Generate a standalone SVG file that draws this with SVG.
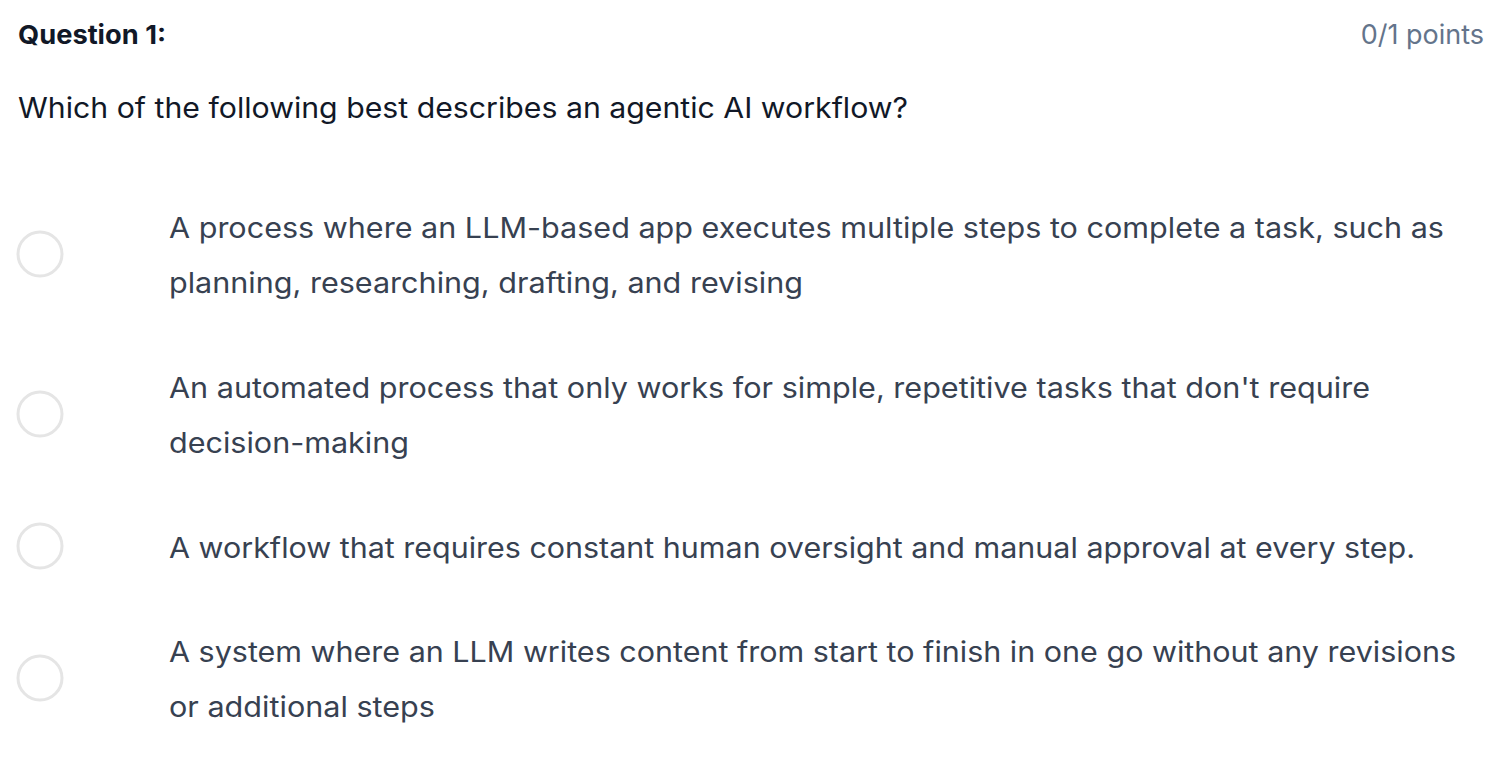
<svg xmlns="http://www.w3.org/2000/svg" width="1502" height="762" viewBox="0 0 1502 762">
<style>
.q{font-family:Inter,"Noto Sans","Liberation Sans",sans-serif;font-weight:700;font-size:26px;fill:#111827}
.pts{font-family:Inter,"Noto Sans","Liberation Sans",sans-serif;font-size:27px;fill:#64748b}
.stem{font-family:Inter,"Noto Sans","Liberation Sans",sans-serif;font-size:28px;fill:#111827}
.opt{font-family:Inter,"Noto Sans","Liberation Sans",sans-serif;font-size:28px;fill:#374151}
.radio{fill:#fff;stroke:#e5e5e5;stroke-width:3}
</style>
<rect width="1502" height="762" fill="#fff"/>
<g id="header">
<text class="q" x="18" y="44" textLength="148" lengthAdjust="spacingAndGlyphs">Question 1:</text>
<text class="pts" x="1484" y="44" text-anchor="end">0/1 points</text>
</g>
<g id="stem">
<text class="stem" x="18" y="118" textLength="890" lengthAdjust="spacingAndGlyphs">Which of the following best describes an agentic AI workflow?</text>
</g>
<g id="option1">
<circle class="radio" cx="40" cy="254" r="22"/>
<text class="opt" x="169" y="238" textLength="1275" lengthAdjust="spacingAndGlyphs">A process where an LLM-based app executes multiple steps to complete a task, such as</text>
<text class="opt" x="169" y="293" textLength="634" lengthAdjust="spacingAndGlyphs">planning, researching, drafting, and revising</text>
</g>
<g id="option2">
<circle class="radio" cx="40" cy="414" r="22"/>
<text class="opt" x="169" y="398" textLength="1201" lengthAdjust="spacingAndGlyphs">An automated process that only works for simple, repetitive tasks that don't require</text>
<text class="opt" x="169" y="453" textLength="240" lengthAdjust="spacingAndGlyphs">decision-making</text>
</g>
<g id="option3">
<circle class="radio" cx="40" cy="546" r="22"/>
<text class="opt" x="169" y="558" textLength="1246" lengthAdjust="spacingAndGlyphs">A workflow that requires constant human oversight and manual approval at every step.</text>
</g>
<g id="option4">
<circle class="radio" cx="40" cy="678" r="22"/>
<text class="opt" x="169" y="662" textLength="1287" lengthAdjust="spacingAndGlyphs">A system where an LLM writes content from start to finish in one go without any revisions</text>
<text class="opt" x="169" y="717" textLength="266" lengthAdjust="spacingAndGlyphs">or additional steps</text>
</g>
</svg>
